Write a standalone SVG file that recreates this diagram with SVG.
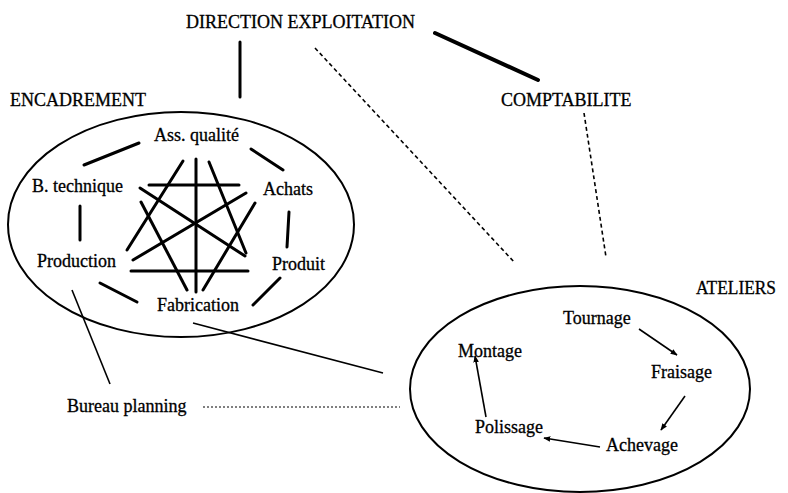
<svg xmlns="http://www.w3.org/2000/svg" width="788" height="493" viewBox="0 0 788 493">
<style>
text{font-family:"Liberation Serif","Times New Roman",serif;font-size:18px;fill:#000;stroke:#000;stroke-width:0.3}
.thick{stroke:#000;stroke-width:3;stroke-linecap:round;fill:none}
.thin{stroke:#000;stroke-width:1.6;fill:none}
.dash{stroke:#000;stroke-width:1.6;stroke-dasharray:4 3;fill:none}
.dot{stroke:#000;stroke-width:1;stroke-dasharray:2 2;fill:none}
.ell{stroke:#000;stroke-width:2;fill:none}
.arr{stroke:#000;stroke-width:1.6;fill:none;marker-end:url(#ah)}
</style>
<defs>
<marker id="ah" viewBox="0 0 10 10" refX="9" refY="5" markerWidth="7" markerHeight="7" markerUnits="userSpaceOnUse" orient="auto">
<path d="M0,1 L10,5 L0,9 z" fill="#000"/>
</marker>
</defs>
<rect width="788" height="493" fill="#fff"/>
<g id="connectors">
<line class="thick" x1="240" y1="42" x2="240" y2="97"/>
<line class="thick" x1="435" y1="33" x2="538" y2="80" style="stroke-width:4"/>
<line class="dash" x1="315" y1="48" x2="515" y2="263"/>
<line class="dash" x1="584" y1="113" x2="606" y2="257"/>
<line class="thin" x1="72" y1="290" x2="110" y2="384"/>
<line class="thin" x1="193" y1="323" x2="383" y2="373"/>
<line class="dot" x1="203" y1="407" x2="400" y2="407"/>
<line class="thick" x1="139" y1="143" x2="84" y2="165"/>
<line class="thick" x1="251" y1="149" x2="283" y2="170"/>
<line class="thick" x1="80" y1="206" x2="80" y2="240"/>
<line class="thick" x1="289" y1="212" x2="287" y2="247"/>
<line class="thick" x1="100" y1="283" x2="137" y2="302"/>
<line class="thick" x1="280" y1="278" x2="253" y2="305"/>
<line class="thick" x1="149" y1="185" x2="239" y2="185"/>
<line class="thick" x1="131" y1="271" x2="248" y2="271"/>
<line class="thick" x1="196" y1="159" x2="196" y2="292"/>
<line class="thick" x1="183" y1="161" x2="127" y2="250"/>
<line class="thick" x1="209" y1="162" x2="246" y2="253"/>
<line class="thick" x1="140" y1="188" x2="245" y2="256"/>
<line class="thick" x1="246" y1="193" x2="133" y2="260"/>
<line class="thick" x1="141" y1="202" x2="187" y2="290"/>
<line class="thick" x1="255" y1="203" x2="203" y2="290"/>
<line class="arr" x1="639" y1="329" x2="677" y2="355"/>
<line class="arr" x1="685" y1="396" x2="661" y2="430"/>
<line class="arr" x1="600" y1="447" x2="544" y2="438"/>
<line class="arr" x1="486" y1="417" x2="475" y2="356"/>
</g>
<g id="direction"><text x="186" y="28">DIRECTION EXPLOITATION</text></g>
<g id="comptabilite"><text x="501" y="106">COMPTABILITE</text></g>
<g id="encadrement">
<ellipse class="ell" cx="181" cy="224.5" rx="173" ry="112.5"/>
<text x="10" y="106">ENCADREMENT</text>
</g>
<g id="ass-qualite"><text x="154" y="141">Ass. qualité</text></g>
<g id="b-technique"><text x="32" y="192">B. technique</text></g>
<g id="achats"><text x="263" y="195">Achats</text></g>
<g id="production"><text x="37" y="267">Production</text></g>
<g id="produit"><text x="272" y="270">Produit</text></g>
<g id="fabrication"><text x="157" y="311">Fabrication</text></g>
<g id="ateliers">
<ellipse class="ell" cx="580" cy="389" rx="170" ry="103"/>
<text x="696" y="294" textLength="80" lengthAdjust="spacingAndGlyphs">ATELIERS</text>
</g>
<g id="tournage"><text x="563" y="324">Tournage</text></g>
<g id="montage"><text x="458" y="357">Montage</text></g>
<g id="fraisage"><text x="651" y="378">Fraisage</text></g>
<g id="polissage"><text x="475" y="433">Polissage</text></g>
<g id="achevage"><text x="606" y="451">Achevage</text></g>
<g id="bureau-planning"><text x="67" y="412">Bureau planning</text></g>
</svg>
